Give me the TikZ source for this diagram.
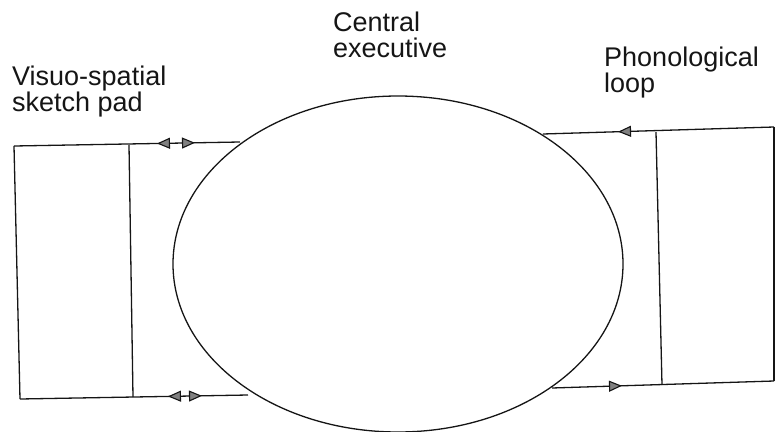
\documentclass[tikz,border=0pt]{standalone}
\usepackage{fontspec}
\setmainfont{Liberation Sans}
\usetikzlibrary{arrows.meta,shapes.geometric,decorations.markings}
\definecolor{inkdark}{HTML}{151515}
\definecolor{headfill}{HTML}{808080}

\begin{document}
\begin{tikzpicture}[x=1pt,y=-1pt,
  wire/.style={draw=inkdark,line width=1.3pt},
  lbl/.style={font=\fontsize{27}{26}\selectfont,text=inkdark,align=left,inner sep=0pt,anchor=base west},
  fwd/.style={postaction={decorate,decoration={markings,
    mark=at position #1 with {\arrow[line width=1.1pt]{Triangle[length=13pt,width=11pt,fill=headfill]}}}}},
  bwd/.style={postaction={decorate,decoration={markings,
    mark=at position #1 with {\arrowreversed[line width=1.1pt]{Triangle[length=13pt,width=11pt,fill=headfill]}}}}}]
  \useasboundingbox (0,0) rectangle (776,431);

  % central executive
  \node[draw=inkdark,line width=1.3pt,ellipse,inner sep=0pt,
        minimum width=450pt,minimum height=336pt] (ce) at (398,264) {};
  \node[lbl] (celab) at (333,57) {Central\\executive};
  \node[lbl] (vslab) at (12,111) {Visuo-spatial\\sketch pad};
  \node[lbl] (pllab) at (604,92) {Phonological\\loop};

  % visuo-spatial sketch pad
  \coordinate (vs-tl) at (14,146);
  \coordinate (vs-tm) at (129,145);
  \coordinate (vs-te) at (240,142);
  \coordinate (vs-bl) at (20,399);
  \coordinate (vs-bm) at (133,397);
  \coordinate (vs-be) at (248,395);
  \draw[wire] (vs-tl) -- (vs-bl);
  \draw[wire] (vs-tm) -- (vs-bm);
  \draw[wire,bwd=143pt,fwd=181pt] (vs-tl) -- (vs-te);
  \draw[wire,bwd=148pt,fwd=182pt] (vs-bl) -- (vs-be);

  % phonological loop
  \coordinate (pl-tr) at (774,127);
  \coordinate (pl-tm) at (656,132);
  \coordinate (pl-ts) at (543,134);
  \coordinate (pl-br) at (774,381);
  \coordinate (pl-bm) at (662,385);
  \coordinate (pl-bs) at (552,388);
  \draw[wire] (pl-tr) -- (pl-br);
  \draw[wire] (pl-tm) -- (pl-bm);
  \draw[wire,fwd=156pt] (pl-tr) -- (pl-ts);
  \draw[wire,fwd=70pt] (pl-bs) -- (pl-br);
\end{tikzpicture}
\end{document}
